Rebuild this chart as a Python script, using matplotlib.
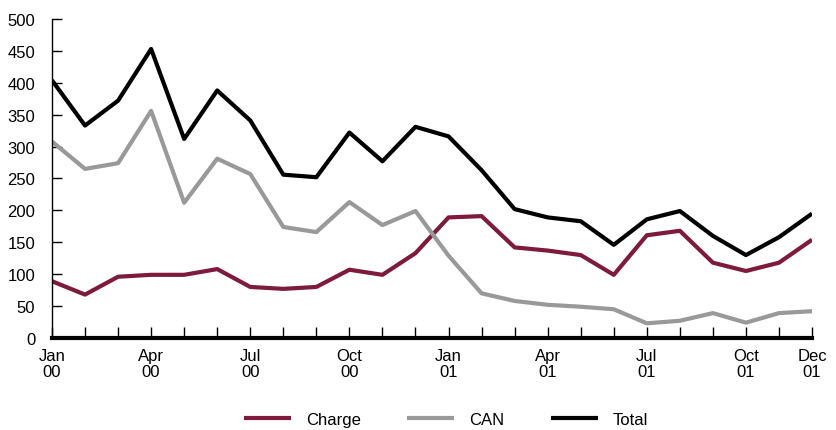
import matplotlib
matplotlib.use("Agg")
import matplotlib.pyplot as plt

plt.rcParams['font.family'] = ['Liberation Sans', 'DejaVu Sans']

# monthly data, Jan 00 .. Dec 01
months = list(range(24))
charge = [89, 68, 96, 99, 99, 108, 80, 77, 80, 107, 99, 133,
          189, 191, 142, 137, 130, 99, 161, 168, 118, 105, 118, 154]
can = [308, 265, 274, 356, 212, 281, 257, 174, 166, 213, 177, 199,
       129, 70, 58, 52, 49, 45, 23, 27, 39, 24, 39, 42]
total = [404, 333, 372, 453, 312, 388, 341, 256, 252, 322, 277, 331,
         316, 263, 202, 189, 183, 146, 186, 199, 160, 130, 158, 195]

tick_pos = [0, 3, 6, 9, 12, 15, 18, 21, 23]
tick_labels = ["Jan\n00", "Apr\n00", "Jul\n00", "Oct\n00", "Jan\n01",
               "Apr\n01", "Jul\n01", "Oct\n01", "Dec\n01"]
y_ticks = list(range(0, 501, 50))

fig = plt.figure(figsize=(8.37, 4.31), dpi=100)
ax = fig.add_axes([0.0621, 0.2135, 0.9081, 0.7401])

ax.plot(months, charge, color='#7e1a3c', lw=3, label='Charge', solid_capstyle='butt')
ax.plot(months, can, color='#999999', lw=3, label='CAN', solid_capstyle='butt')
ax.plot(months, total, color='black', lw=3, label='Total', solid_capstyle='butt')

ax.set_xlim(0, 23)
ax.set_ylim(0, 500)
ax.set_yticks(y_ticks)
ax.set_xticks(months, minor=True)
ax.set_xticks(tick_pos)
ax.set_xticklabels(tick_labels, linespacing=1.1)

for s in ['top', 'right']:
    ax.spines[s].set_visible(False)
ax.spines['left'].set_linewidth(1)
ax.spines['bottom'].set_linewidth(3)

ax.tick_params(axis='y', direction='in', length=7, width=1, labelsize=12, pad=12)
ax.tick_params(axis='x', which='both', direction='in', length=8, width=1, labelsize=12, pad=7)

fig.legend(loc='center', bbox_to_anchor=(0.533, 0.025), ncol=3, frameon=False,
           fontsize=12, handlelength=2.8, columnspacing=2.8, handletextpad=0.9)

plt.savefig("out.png", dpi=100)
